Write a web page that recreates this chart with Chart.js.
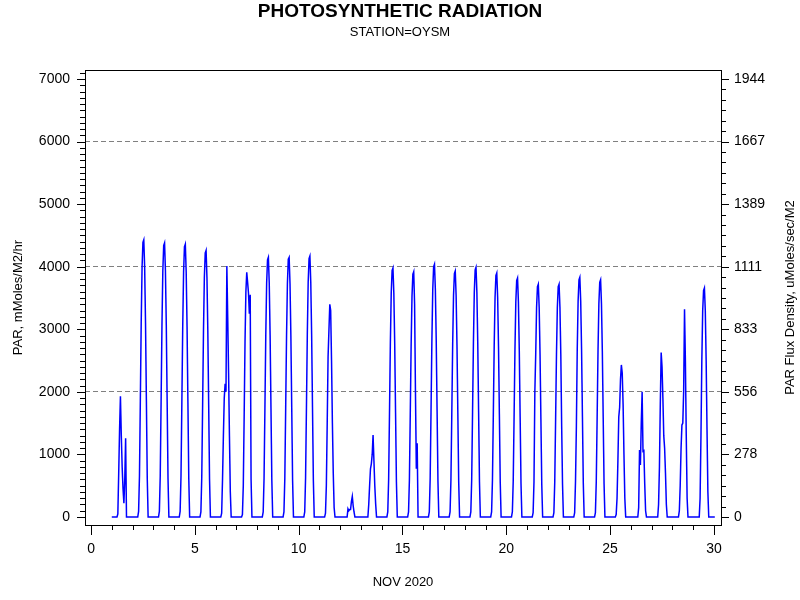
<!DOCTYPE html>
<html>
<head>
<meta charset="utf-8">
<script src="https://cdn.jsdelivr.net/npm/chart.js@4.4.1/dist/chart.umd.min.js"></script>
<style>
  html, body { margin: 0; padding: 0; background: #fff; }
  #wrap { width: 800px; height: 600px; }
</style>
</head>
<body>
<div id="wrap"><canvas id="parChart" width="800" height="600"></canvas></div>
<script>
// hourly PAR (mMoles/M2/hr), one row per day of Nov 2020, hours 07..18 (night hours are 0)
var firstHour = 7;
var parDay01 = [50, 700, 1400, 1930, 1300, 800, 450, 220, 600, 1260, 0, 0];
var parDay02 = [90, 660, 1860, 3100, 3990, 4390, 4430, 3990, 3100, 1860, 620, 0];
var parDay03 = [90, 660, 1840, 3070, 3940, 4340, 4380, 3940, 3070, 1840, 610, 0];
var parDay04 = [90, 650, 1830, 3050, 3920, 4320, 4360, 3920, 3050, 1830, 610, 0];
var parDay05 = [80, 640, 1790, 2980, 3830, 4220, 4260, 3830, 2980, 1790, 600, 0];
var parDay06 = [60, 600, 1300, 1900, 2130, 2000, 4010, 3200, 2300, 1300, 400, 0];
var parDay07 = [40, 500, 1600, 2800, 3600, 3910, 3750, 3580, 3250, 3550, 600, 0];
var parDay08 = [80, 620, 1740, 2910, 3740, 4110, 4150, 3740, 2910, 1740, 580, 0];
var parDay09 = [80, 620, 1740, 2900, 3730, 4120, 4150, 3730, 2900, 1740, 580, 0];
var parDay10 = [80, 630, 1750, 2920, 3750, 4130, 4170, 3750, 2920, 1750, 580, 0];
var parDay11 = [60, 500, 1500, 2560, 2990, 3400, 3300, 2500, 1500, 700, 150, 0];
var parDay12 = [0, 0, 130, 100, 120, 120, 250, 330, 180, 80, 0, 0];
var parDay13 = [0, 0, 200, 500, 770, 850, 1000, 1310, 900, 500, 210, 0];
var parDay14 = [80, 600, 1670, 2790, 3580, 3940, 3980, 3580, 2790, 1670, 560, 0];
var parDay15 = [80, 590, 1650, 2740, 3530, 3880, 3920, 3400, 2000, 770, 1180, 0];
var parDay16 = [80, 610, 1700, 2830, 3640, 4000, 4040, 3640, 2830, 1700, 570, 0];
var parDay17 = [80, 590, 1650, 2750, 3540, 3890, 3930, 3540, 2750, 1650, 550, 0];
var parDay18 = [80, 600, 1680, 2790, 3590, 3950, 3990, 3590, 2790, 1680, 560, 0];
var parDay19 = [80, 590, 1640, 2730, 3510, 3860, 3900, 3510, 2730, 1640, 550, 0];
var parDay20 = [80, 570, 1600, 2670, 3440, 3780, 3820, 3440, 2670, 1600, 530, 0];
var parDay21 = [70, 560, 2000, 2600, 3350, 3680, 3720, 3350, 2600, 1560, 520, 0];
var parDay22 = [70, 560, 1560, 2600, 3350, 3680, 3720, 3350, 2600, 1450, 520, 0];
var parDay23 = [70, 570, 1450, 2680, 3450, 3790, 3830, 3450, 2680, 1610, 540, 0];
var parDay24 = [70, 570, 1590, 2650, 3410, 3750, 3790, 3410, 2650, 1590, 530, 0];
var parDay25 = [40, 300, 900, 1600, 1750, 2200, 2430, 2300, 1800, 1000, 300, 0];
var parDay26 = [0, 0, 150, 1070, 830, 1500, 2000, 1050, 1060, 530, 100, 0];
var parDay27 = [0, 200, 800, 1800, 2630, 2400, 1900, 1300, 1100, 700, 200, 0];
var parDay28 = [0, 100, 500, 1100, 1470, 1500, 2010, 3320, 2500, 1300, 300, 0];
var parDay29 = [0, 300, 1300, 2500, 3300, 3620, 3660, 3300, 2500, 1400, 400, 0];
var lastDay = 30, lastHour = 1;   // record stops early on Nov 30

var leftTicks = [0, 1000, 2000, 3000, 4000, 5000, 6000, 7000];
var rightTickLabels = ['0', '278', '556', '833', '1111', '1389', '1667', '1944'];
var xTicks = [0, 5, 10, 15, 20, 25, 30];
var gridLines = [2000, 4000, 6000];

var parByDay = [parDay01, parDay02, parDay03, parDay04, parDay05, parDay06, parDay07, parDay08,
  parDay09, parDay10, parDay11, parDay12, parDay13, parDay14, parDay15, parDay16, parDay17,
  parDay18, parDay19, parDay20, parDay21, parDay22, parDay23, parDay24, parDay25, parDay26,
  parDay27, parDay28, parDay29];

var points = [];
parByDay.forEach(function (vals, i) {
  var day = i + 1;
  for (var h = 0; h < 24; h++) {
    var k = h - firstHour;
    points.push({x: day + h / 24, y: (k >= 0 && k < vals.length) ? vals[k] : 0});
  }
});
for (var h = 0; h <= lastHour; h++) points.push({x: lastDay + h / 24, y: 0});

var FONT = 'Liberation Sans, Arial, Helvetica, sans-serif';
var yMin = -128, yMax = 7144, toFlux = 3.6;

// frame, minor ticks and the right-hand title (SAS style)
var framePlugin = {
  id: 'frame',
  afterDraw: function (chart) {
    var ctx = chart.ctx, a = chart.chartArea;
    var xs = chart.scales.x, yl = chart.scales.y, yr = chart.scales.y2;
    ctx.save();
    ctx.strokeStyle = '#000';
    ctx.lineWidth = 1;
    ctx.strokeRect(Math.round(a.left) + 0.5, Math.round(a.top) + 0.5,
      Math.round(a.right - a.left), Math.round(a.bottom - a.top));
    ctx.beginPath();
    for (var d = 0; d <= 30; d++) {
      var px = Math.round(xs.getPixelForValue(d)) + 0.5;
      ctx.moveTo(px, a.bottom);
      ctx.lineTo(px, a.bottom + (d % 5 === 0 ? 10 : 5));
    }
    for (var v = 0; v <= 7100; v += 100) {
      var py = Math.round(yl.getPixelForValue(v)) + 0.5;
      ctx.moveTo(a.left, py);
      ctx.lineTo(a.left - (v % 1000 === 0 ? 8 : 5), py);
    }
    for (var j = 0; j <= 42; j++) {
      var py2 = Math.round(yr.getPixelForValue(j * 1000 / 6 / toFlux)) + 0.5;
      ctx.moveTo(a.right, py2);
      ctx.lineTo(a.right + (j % 6 === 0 ? 8 : 5), py2);
    }
    ctx.stroke();
    ctx.fillStyle = '#000';
    ctx.font = '13px ' + FONT;
    ctx.textAlign = 'center';
    ctx.textBaseline = 'middle';
    ctx.translate(790, (a.top + a.bottom) / 2);
    ctx.rotate(-Math.PI / 2);
    ctx.fillText('PAR Flux Density, uMoles/sec/M2', 0, 0);
    ctx.restore();
  }
};

var ctx = document.getElementById('parChart');
var parChart = new Chart(ctx, {
  type: 'line',
  data: {
    datasets: [{
      data: points,
      borderColor: '#0000ff',
      borderWidth: 1.5,
      pointRadius: 0,
      tension: 0.0001,   // keeps Chart.js off its pixel-collapsing fast path
      fill: false
    }]
  },
  options: {
    responsive: false,
    devicePixelRatio: 1,
    animation: false,
    layout: {padding: 0},
    plugins: {
      legend: {display: false},
      tooltip: {enabled: false},
      title: {
        display: true,
        text: 'PHOTOSYNTHETIC RADIATION',
        color: '#000',
        font: {family: FONT, size: 19, weight: 'bold'},
        padding: {top: 0, bottom: 0}
      },
      subtitle: {
        display: true,
        text: 'STATION=OYSM',
        color: '#000',
        font: {family: FONT, size: 13},
        padding: {top: 1.4, bottom: 30.2}
      }
    },
    scales: {
      x: {
        type: 'linear',
        position: 'bottom',
        min: -0.29,
        max: 30.34,
        afterBuildTicks: function (s) { s.ticks = xTicks.map(function (v) { return {value: v}; }); },
        afterFit: function (s) { s.height = 75; },
        ticks: {color: '#000', font: {family: FONT, size: 14}, padding: 6, maxRotation: 0,
          callback: function (v) { return v; }},
        grid: {display: true, drawOnChartArea: false, tickLength: 10, tickColor: 'rgba(0,0,0,0)'},
        border: {display: false},
        title: {display: true, text: 'NOV 2020', color: '#000', font: {family: FONT, size: 13},
          padding: {top: 0, bottom: 9.5}}
      },
      y: {
        type: 'linear',
        position: 'left',
        min: yMin,
        max: yMax,
        afterBuildTicks: function (s) { s.ticks = leftTicks.map(function (v) { return {value: v}; }); },
        afterFit: function (s) { s.width = 85; },
        ticks: {color: '#000', font: {family: FONT, size: 14}, padding: 7,
          callback: function (v) { return v; }},
        grid: {
          tickLength: 8,
          tickColor: 'rgba(0,0,0,0)',
          lineWidth: 1,
          color: function (c) {
            return gridLines.indexOf(c.tick && c.tick.value) >= 0 ? '#808080' : 'rgba(0,0,0,0)';
          }
        },
        border: {display: false, dash: [5, 3]},
        title: {display: true, text: 'PAR, mMoles/M2/hr', color: '#000', font: {family: FONT, size: 13},
          padding: {top: 11, bottom: 0}}
      },
      y2: {
        type: 'linear',
        position: 'right',
        min: yMin / toFlux,
        max: yMax / toFlux,
        afterBuildTicks: function (s) {
          s.ticks = leftTicks.map(function (v) { return {value: v / toFlux}; });
        },
        afterFit: function (s) { s.width = 79; },
        ticks: {color: '#000', font: {family: FONT, size: 14}, padding: 5,
          callback: function (v, i) { return rightTickLabels[i]; }},
        grid: {drawOnChartArea: false, tickLength: 8, tickColor: 'rgba(0,0,0,0)'},
        border: {display: false}
      }
    }
  },
  plugins: [framePlugin]
});
</script>
</body>
</html>
